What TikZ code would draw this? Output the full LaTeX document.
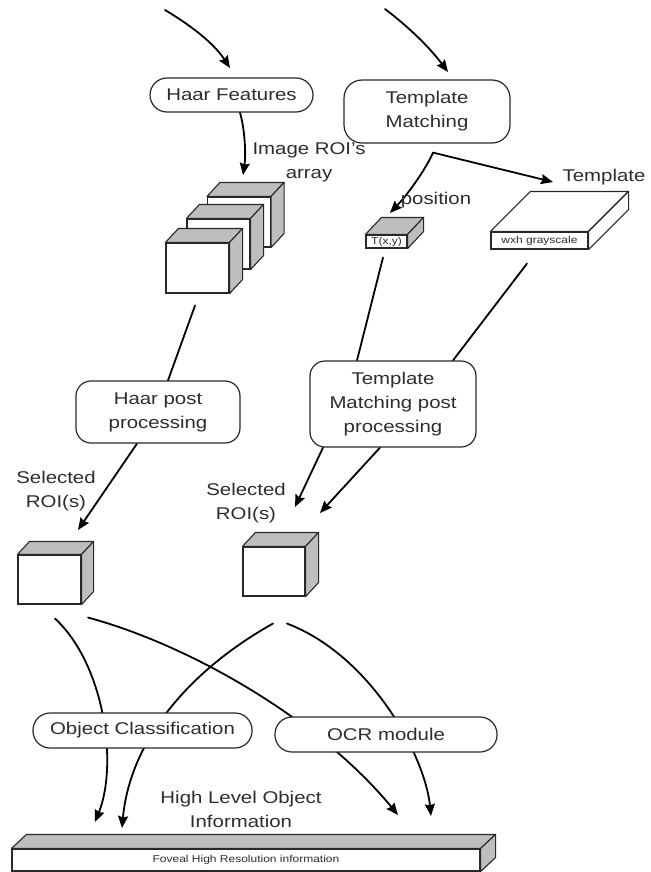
\documentclass[tikz,border=0pt]{standalone}
\usepackage{fontspec}
\setmainfont{Liberation Sans}[FakeStretch=1.2]
\usetikzlibrary{arrows.meta}
\pgfdeclarelayer{bg}
\pgfdeclarelayer{wires}
\pgfsetlayers{bg,wires,main}
\definecolor{facegray}{RGB}{190,190,190}
\definecolor{edge}{RGB}{40,40,40}
\definecolor{ink}{RGB}{45,45,45}
\tikzset{
  proc/.style={draw=edge, line width=1.2pt, rounded corners=15pt, fill=white,
    align=center, inner sep=0pt, text=ink, font=\fontsize{17}{24}\selectfont},
  pill/.style={proc, rounded corners=17pt},
  lbl/.style={align=center, inner sep=0pt, text=ink, font=\fontsize{17}{24}\selectfont},
  front/.style={draw=edge, line width=1.1pt, fill=white, inner sep=0pt, text=ink,
    font=\fontsize{10}{11}\selectfont},
  face/.style={draw=edge, line width=1.1pt, line join=round},
  wire/.style={line width=1.8pt, line cap=round},
  flow/.style={wire, -{Stealth[length=12pt,width=10pt,inset=1.5pt]}},
}
% a box seen in perspective: name, centre of front face, width, height,
% depth shift (dx,dy), fill of top and side faces, front label
\newcommand{\solidbox}[8]{%
  \node[front, minimum width=#3, minimum height=#4] (#1) at #2 {#8};
  \draw[face, fill=#7] (#1.north west) -- ([shift={(#5,#6)}]#1.north west)
    -- ([shift={(#5,#6)}]#1.north east) -- (#1.north east) -- cycle;
  \draw[face, fill=#7] (#1.north east) -- ([shift={(#5,#6)}]#1.north east)
    -- ([shift={(#5,#6)}]#1.south east) -- (#1.south east) -- cycle;
}
\begin{document}
\begin{tikzpicture}[x=1pt, y=-1pt]
\useasboundingbox (0,0) rectangle (650,872);
\begin{pgfonlayer}{bg}
  \fill[white] (0,0) rectangle (650,872);
\end{pgfonlayer}

% processing stages
\node[pill, minimum width=163pt, minimum height=34pt] (hf) at (231.5,95) {Haar Features};
\node[proc, rounded corners=18pt, minimum width=166pt, minimum height=63pt] (tm) at (427,111.5) {Template\\Matching};
\node[proc, minimum width=164pt, minimum height=62pt] (hpp) at (158,412) {Haar post\\processing};
\node[proc, minimum width=166pt, minimum height=86pt] (tmpp) at (393,404) {Template\\Matching post\\processing};
\node[pill, minimum width=219pt, minimum height=35pt] (oc) at (142.5,730.5) {Object Classification};
\node[pill, minimum width=222pt, minimum height=35pt] (ocr) at (386,734.5) {OCR module};

% data blocks
\solidbox{r3}{(239,222)}{63pt}{50pt}{13}{-14}{facegray}{}
\solidbox{r2}{(218.5,244)}{63pt}{50pt}{13}{-14}{facegray}{}
\solidbox{r1}{(197.5,268)}{63pt}{50pt}{13}{-14}{facegray}{}
\solidbox{txy}{(386.5,241.5)}{41pt}{13pt}{16}{-17}{facegray}{T(x,y)}
\solidbox{tpl}{(539.5,240.5)}{97pt}{17pt}{40}{-40}{white}{wxh grayscale}
\solidbox{sl}{(49.5,579.5)}{63pt}{49pt}{12}{-13}{facegray}{}
\solidbox{sm}{(274,571.5)}{62pt}{49pt}{13}{-14}{facegray}{}
\solidbox{fov}{(246,860)}{468pt}{22pt}{15}{-14}{facegray}{Foveal High Resolution information}

% labels
\node[lbl] (lroi) at (309,162) {Image ROI’s\\array};
\node[lbl] (lpos) at (436,200) {position};
\node[lbl] (ltpl) at (604,177) {Template};
\node[lbl] (lsel1) at (56,491) {Selected\\ROI(s)};
\node[lbl] (lsel2) at (246,503) {Selected\\ROI(s)};
\node[lbl] (lhl) at (241,809) {High Level Object\\Information};

% free ends of the connectors
\coordinate (inL) at (165,10);
\coordinate (inR) at (385,9);
\coordinate (tipHF) at (230,68);
\coordinate (tipTM) at (448,72);
\coordinate (tipStack) at (243,175);
\coordinate (tmfork) at ([xshift=6pt,yshift=-9pt]tm.south);
\coordinate (tipTxy) at (390,213);
\coordinate (tipTpl) at (553,182);
\coordinate (tipSL) at (78,530);
\coordinate (tipSM1) at (295,507);
\coordinate (tipSM2) at (320,513);
\coordinate (tipF1) at (95,822);
\coordinate (tipF2) at (122,828);
\coordinate (tipF3) at (398,815);
\coordinate (tipF4) at (431,816);

\begin{pgfonlayer}{wires}
  \draw[flow] (inL) .. controls (195,28) and (215,45) .. (tipHF);
  \draw[flow] (inR) .. controls (410,28) and (430,48) .. (tipTM);
  \draw[flow] ([xshift=8.5pt]hf.south) .. controls (245,130) and (246,155) .. (tipStack);
  \draw[flow] (tmfork) .. controls (428,165) and (410,192) .. (tipTxy);
  \draw[flow] (tmfork) -- (tipTpl);
  \draw[wire] ([xshift=-2.5pt,yshift=-12pt]r1.south) -- ([xshift=10pt]hpp.north);
  \draw[flow] ([xshift=-21pt]hpp.south) -- (tipSL);
  \draw[wire] ([xshift=-3.5pt,yshift=-9pt]txy.south) -- ([xshift=-36pt]tmpp.north);
  \draw[wire] ([xshift=-12.5pt,yshift=-14pt]tpl.south) -- ([xshift=60pt]tmpp.north);
  \draw[flow] ([xshift=-70pt]tmpp.south) -- (tipSM1);
  \draw[flow] ([xshift=-13pt]tmpp.south) -- (tipSM2);
  % results routed through the two recognition stages
  \draw[flow] ([xshift=5.5pt,yshift=-14pt]sl.south) .. controls (105,665) and (118,765) .. (tipF1);
  \draw[flow] ([xshift=38.5pt,yshift=-13pt]sl.south) .. controls (190,645) and (320,720) .. (tipF3);
  \draw[flow] ([xshift=-1pt,yshift=-27pt]sm.south) .. controls (190,670) and (130,740) .. (tipF2);
  \draw[flow] ([xshift=13pt,yshift=-27pt]sm.south) .. controls (370,655) and (425,755) .. (tipF4);
\end{pgfonlayer}
\end{tikzpicture}
\end{document}
